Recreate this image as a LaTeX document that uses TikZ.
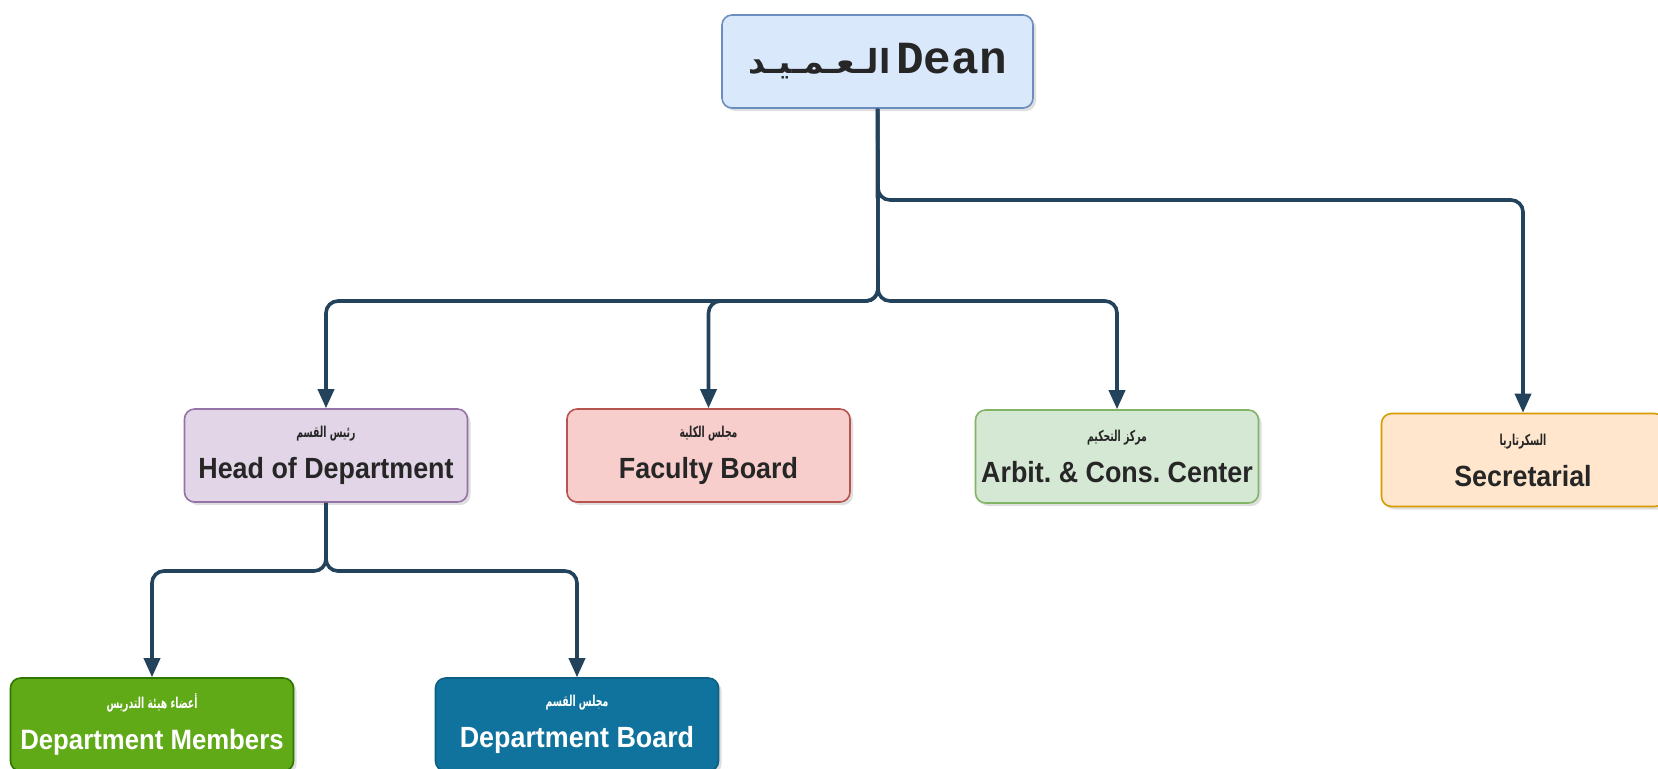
\documentclass[tikz,border=0pt]{standalone}
\usepackage{fontspec}
\setmainfont{Liberation Sans}[FakeStretch=0.92]
\setmonofont{Liberation Mono}
\newfontfamily\arabicfont[Script=Arabic, FakeStretch=0.62]{DejaVu Sans}
\newfontfamily\arabicwide[Script=Arabic]{DejaVu Sans}
\TeXXeTstate=1
\usetikzlibrary{arrows.meta,shadows}

\definecolor{linecol}{HTML}{23435C}
\definecolor{deanfill}{HTML}{DAE8FC}\definecolor{deanline}{HTML}{6C8EBF}
\definecolor{headfill}{HTML}{E1D5E7}\definecolor{headline}{HTML}{9673A6}
\definecolor{facfill}{HTML}{F8CECC}\definecolor{facline}{HTML}{B85450}
\definecolor{arbfill}{HTML}{D5E8D4}\definecolor{arbline}{HTML}{82B366}
\definecolor{secfill}{HTML}{FFE6CC}\definecolor{secline}{HTML}{D79B00}
\definecolor{memfill}{HTML}{60A917}\definecolor{memline}{HTML}{2D7600}
\definecolor{brdfill}{HTML}{10739E}\definecolor{brdline}{HTML}{0E5F83}

\newcommand{\artxt}[1]{{\arabicfont\bfseries\fontsize{7.5}{9}\selectfont\beginR #1\endR}}

\begin{document}
\frenchspacing
\begin{tikzpicture}[x=0.5pt, y=-0.5pt,
  unit/.style={rectangle, draw, rounded corners=5pt, line width=0.8pt, minimum width=141.5pt, minimum height=46.5pt, inner xsep=1pt, align=center, text=black!85, font=\bfseries\fontsize{14.6}{20.5}\selectfont, drop shadow={shadow xshift=1.5pt, shadow yshift=-1.5pt, opacity=0.25}},
  arrow/.style={-{Triangle[length=9.5pt,width=8pt]}, line width=1.8pt, draw=linecol, rounded corners=6pt}
]
\fill[white] (0,0) rectangle (1658,768);
\useasboundingbox (0,0) rectangle (1658,768);

\node[unit, fill=deanfill, draw=deanline, minimum width=155.5pt] (dean) at (877.5,61.5) {{\arabicwide\bfseries\fontsize{16.5}{18}\selectfont\beginR الـعـمـيـد\endR}\hspace{3pt}{\ttfamily\bfseries\fontsize{23}{24}\selectfont Dean}};
\node[unit, fill=headfill, draw=headline] (head) at (326,455.5) {\artxt{رئيس القسم}\\Head of Department};
\node[unit, fill=facfill, draw=facline] (faculty) at (708.5,455.5) {\artxt{مجلس الكلية}\\Faculty Board};
\node[unit, fill=arbfill, draw=arbline] (arbit) at (1117,456.5) {\artxt{مركز التحكيم}\\Arbit. \& Cons. Center};
\node[unit, fill=secfill, draw=secline] (sec) at (1523,460) {\artxt{السكرتاريا}\\Secretarial};
\node[unit, fill=memfill, draw=memline, text=white, font=\bfseries\fontsize{14}{20.5}\selectfont] (members) at (152,724.5) {\artxt{أعضاء هيئة التدريس}\\Department Members};
\node[unit, fill=brdfill, draw=brdline, text=white] (board) at (577,724.5) {\artxt{مجلس القسم}\\Department Board};

\coordinate (secturn) at (878,200);
\coordinate (split) at (878,301);
\coordinate (headsplit) at (326,571);

\draw[arrow] (dean) -- (secturn) -| (sec);
\draw[arrow] (dean) -- (split) -| (head);
\draw[arrow] (dean) -- (split) -| (faculty);
\draw[arrow] (dean) -- (split) -| (arbit);
\draw[arrow] (head) -- (headsplit) -| (members);
\draw[arrow] (head) -- (headsplit) -| (board);
\end{tikzpicture}
\end{document}
